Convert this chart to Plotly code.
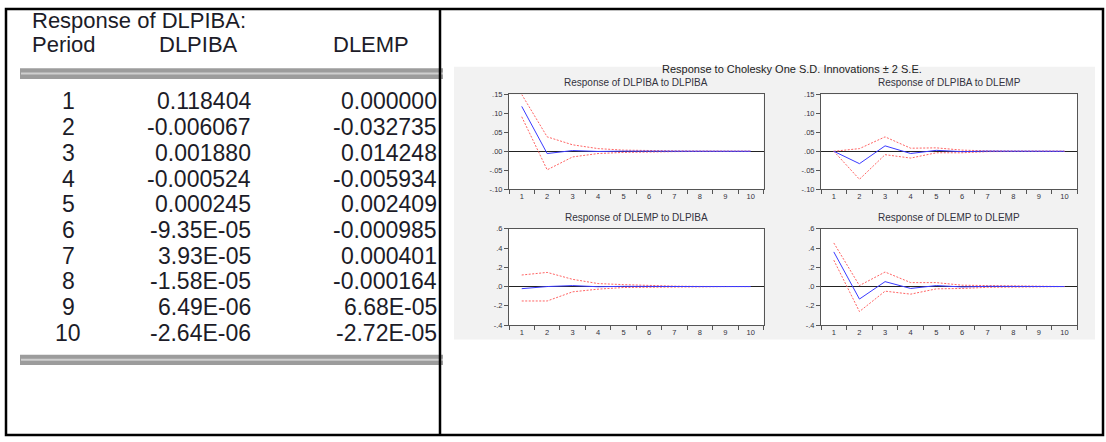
import plotly.graph_objects as go

W, H = 1106, 442

# ---------------- data ----------------
periods = list(range(1, 11))

table_title = "Response of DLPIBA:"
table_headers = ["Period", "DLPIBA", "DLEMP"]
table_dlpiba = ["0.118404", "-0.006067", "0.001880", "-0.000524", "0.000245",
                "-9.35E-05", "3.93E-05", "-1.58E-05", "6.49E-06", "-2.64E-06"]
table_dlemp = ["0.000000", "-0.032735", "0.014248", "-0.005934", "0.002409",
               "-0.000985", "0.000401", "-0.000164", "6.68E-05", "-2.72E-05"]

resp_dlpiba_dlpiba = [0.118404, -0.006067, 0.001880, -0.000524, 0.000245,
                      -9.35e-05, 3.93e-05, -1.58e-05, 6.49e-06, -2.64e-06]
upper_dlpiba_dlpiba = [0.150, 0.038, 0.017, 0.007, 0.003, 0.0012, 0.001, 0.0005, 0.0002, 0.0001]
lower_dlpiba_dlpiba = [0.091, -0.049, -0.015, -0.006, -0.003, -0.0012, -0.001, -0.0005, -0.0002, -0.0001]

resp_dlpiba_dlemp = [0.000000, -0.032735, 0.014248, -0.005934, 0.002409,
                     -0.000985, 0.000401, -0.000164, 6.68e-05, -2.72e-05]
upper_dlpiba_dlemp = [0.0, 0.007, 0.038, 0.008, 0.009, 0.003, 0.001, 0.0005, 0.0002, 0.0]
lower_dlpiba_dlemp = [0.0, -0.074, -0.009, -0.018, -0.004, -0.004, -0.001, -0.001, -0.0002, 0.0]

resp_dlemp_dlpiba = [-0.022, 0.0, 0.01, -0.002, 0.002, -0.001, 0.0005, 0.0, 0.0, 0.0]
upper_dlemp_dlpiba = [0.12, 0.147, 0.075, 0.031, 0.02, 0.01, 0.004, 0.001, 0.0, 0.0]
lower_dlemp_dlpiba = [-0.15, -0.15, -0.055, -0.027, -0.01, -0.006, -0.003, -0.001, 0.0, 0.0]

resp_dlemp_dlemp = [0.36, -0.13, 0.051, -0.02, 0.01, -0.004, 0.002, -0.001, 0.0003, -0.0001]
upper_dlemp_dlemp = [0.453, 0.01, 0.151, 0.041, 0.041, 0.014, 0.01, 0.005, 0.001, 0.0]
lower_dlemp_dlemp = [0.274, -0.26, -0.048, -0.079, -0.024, -0.02, -0.008, -0.003, -0.001, 0.0]

main_title = "Response to Cholesky One S.D. Innovations \u00b1 2 S.E."
panel_titles = ["Response of DLPIBA to DLPIBA", "Response of DLPIBA to DLEMP",
                "Response of DLEMP to DLPIBA", "Response of DLEMP to DLEMP"]
ytick_top = [-0.10, -0.05, 0.0, 0.05, 0.10, 0.15]
ytext_top = ["-.10", "-.05", ".00", ".05", ".10", ".15"]
ytick_bot = [-0.4, -0.2, 0.0, 0.2, 0.4, 0.6]
ytext_bot = ["-.4", "-.2", ".0", ".2", ".4", ".6"]

# ---------------- helpers ----------------
def px(x):
    return x / W

def py(y):
    return 1 - y / H

BLUE = "#3a3aff"
RED = "#ff6464"
TXT = "#333340"

fig = go.Figure()

panels = [
    dict(x0=509, x1=763.5, y0=92.3, y1=189, resp=resp_dlpiba_dlpiba,
         up=upper_dlpiba_dlpiba, lo=lower_dlpiba_dlpiba, rng=[-0.10, 0.15],
         tv=ytick_top, tt=ytext_top),
    dict(x0=821, x1=1077.3, y0=92.3, y1=189, resp=resp_dlpiba_dlemp,
         up=upper_dlpiba_dlemp, lo=lower_dlpiba_dlemp, rng=[-0.10, 0.15],
         tv=ytick_top, tt=ytext_top),
    dict(x0=509, x1=763.5, y0=229.5, y1=327.7, resp=resp_dlemp_dlpiba,
         up=upper_dlemp_dlpiba, lo=lower_dlemp_dlpiba, rng=[-0.4, 0.6],
         tv=ytick_bot, tt=ytext_bot),
    dict(x0=821, x1=1077.3, y0=229.5, y1=327.7, resp=resp_dlemp_dlemp,
         up=upper_dlemp_dlemp, lo=lower_dlemp_dlemp, rng=[-0.4, 0.6],
         tv=ytick_bot, tt=ytext_bot),
]

shapes = []
annotations = []

# gray background of the chart image
shapes.append(dict(type="rect", xref="paper", yref="paper", x0=px(454), x1=px(1095),
                   y0=py(342.5), y1=py(64), fillcolor="#f2f2f2", line=dict(width=0),
                   layer="below"))

layout_axes = {}
for i, p in enumerate(panels, start=1):
    xa = "x" if i == 1 else f"x{i}"
    ya = "y" if i == 1 else f"y{i}"
    shapes.append(dict(type="rect", xref="paper", yref="paper", x0=px(p["x0"]), x1=px(p["x1"]),
                       y0=py(p["y1"]), y1=py(p["y0"]), fillcolor="white",
                       line=dict(width=0), layer="below"))
    fig.add_trace(go.Scatter(x=periods, y=p["up"], mode="lines", xaxis=xa, yaxis=ya,
                             line=dict(color=RED, width=1, dash="2px,1.5px"), showlegend=False))
    fig.add_trace(go.Scatter(x=periods, y=p["lo"], mode="lines", xaxis=xa, yaxis=ya,
                             line=dict(color=RED, width=1, dash="2px,1.5px"), showlegend=False))
    fig.add_trace(go.Scatter(x=periods, y=p["resp"], mode="lines", xaxis=xa, yaxis=ya,
                             line=dict(color=BLUE, width=1), showlegend=False))
    xkey = "xaxis" if i == 1 else f"xaxis{i}"
    ykey = "yaxis" if i == 1 else f"yaxis{i}"
    layout_axes[xkey] = dict(
        domain=[px(p["x0"]), px(p["x1"])], anchor=ya, range=[0.5, 10.5],
        tickvals=periods, ticktext=[str(v) for v in periods], ticks="",
        showgrid=False, zeroline=False, showline=True, mirror=True,
        linecolor="#555", linewidth=1,
        tickfont=dict(family="Liberation Sans, Arial", size=7.5, color=TXT),
        minor=dict(tickvals=[v + 0.5 for v in range(0, 11)], ticks="outside",
                   ticklen=4, tickcolor="#555", tickwidth=1, showgrid=False),
        fixedrange=True,
    )
    layout_axes[ykey] = dict(
        domain=[py(p["y1"]), py(p["y0"])], anchor=xa, range=p["rng"],
        tickvals=p["tv"], ticktext=p["tt"], ticks="outside", ticklen=4,
        tickcolor="#555", showgrid=False, zeroline=True, zerolinecolor="#222",
        zerolinewidth=1, showline=True, mirror=True, linecolor="#555", linewidth=1,
        tickfont=dict(family="Liberation Sans, Arial", size=7.5, color=TXT),
        fixedrange=True,
    )
    annotations.append(dict(xref="paper", yref="paper", x=px((p["x0"] + p["x1"]) / 2),
                            y=py(p["y0"] - 12), text=panel_titles[i - 1], showarrow=False,
                            xanchor="center", yanchor="middle",
                            font=dict(family="Liberation Sans, Arial", size=10, color=TXT)))

annotations.append(dict(xref="paper", yref="paper", x=px(791.5), y=py(66.5), text=main_title,
                        showarrow=False, xanchor="center", yanchor="middle",
                        font=dict(family="Liberation Sans, Arial", size=11, color="#222")))

# ---------------- table (left cell) ----------------
TF = dict(family="Liberation Sans, Arial", size=23, color="#1c1c28")
HF = dict(family="Liberation Sans, Arial", size=22, color="#1c1c28")
annotations.append(dict(xref="paper", yref="paper", x=px(30), y=py(16.5), text=table_title,
                        showarrow=False, xanchor="left", yanchor="middle", font=HF))
annotations.append(dict(xref="paper", yref="paper", x=px(30), y=py(41), text=table_headers[0],
                        showarrow=False, xanchor="left", yanchor="middle", font=HF))
annotations.append(dict(xref="paper", yref="paper", x=px(198.5), y=py(41), text=table_headers[1],
                        showarrow=False, xanchor="center", yanchor="middle", font=HF))
annotations.append(dict(xref="paper", yref="paper", x=px(371), y=py(41), text=table_headers[2],
                        showarrow=False, xanchor="center", yanchor="middle", font=HF))
for k, per in enumerate(periods):
    yc = 99.5 + 26.25 * k
    annotations.append(dict(xref="paper", yref="paper", x=px(68), y=py(yc), text=str(per),
                            showarrow=False, xanchor="center", yanchor="middle", font=TF))
    annotations.append(dict(xref="paper", yref="paper", x=px(253), y=py(yc), text=table_dlpiba[k],
                            showarrow=False, xanchor="right", yanchor="middle", font=TF))
    annotations.append(dict(xref="paper", yref="paper", x=px(439), y=py(yc), text=table_dlemp[k],
                            showarrow=False, xanchor="right", yanchor="middle", font=TF))

# double rules of the table
for (ya, yb) in [(65.5, 76.5), (358, 368.5)]:
    shapes.append(dict(type="rect", xref="paper", yref="paper", x0=px(20), x1=px(443),
                       y0=py(yb), y1=py(ya), fillcolor="#9c9c9c", line=dict(width=0)))
    shapes.append(dict(type="line", xref="paper", yref="paper", x0=px(21), x1=px(443),
                       y0=py((ya + yb) / 2), y1=py((ya + yb) / 2),
                       line=dict(color="#cfcfcf", width=2)))

# outer frame and divider
shapes.append(dict(type="rect", xref="paper", yref="paper", x0=px(6), x1=px(1103),
                   y0=py(440), y1=py(5), line=dict(color="black", width=2.5)))
shapes.append(dict(type="line", xref="paper", yref="paper", x0=px(440), x1=px(440),
                   y0=py(440), y1=py(5), line=dict(color="black", width=2.5)))

fig.update_layout(
    width=W, height=H, margin=dict(l=0, r=0, t=0, b=0),
    paper_bgcolor="white", plot_bgcolor="white",
    shapes=shapes, annotations=annotations, showlegend=False,
    **layout_axes,
)

fig.write_html("out.html", config={"displayModeBar": False})
